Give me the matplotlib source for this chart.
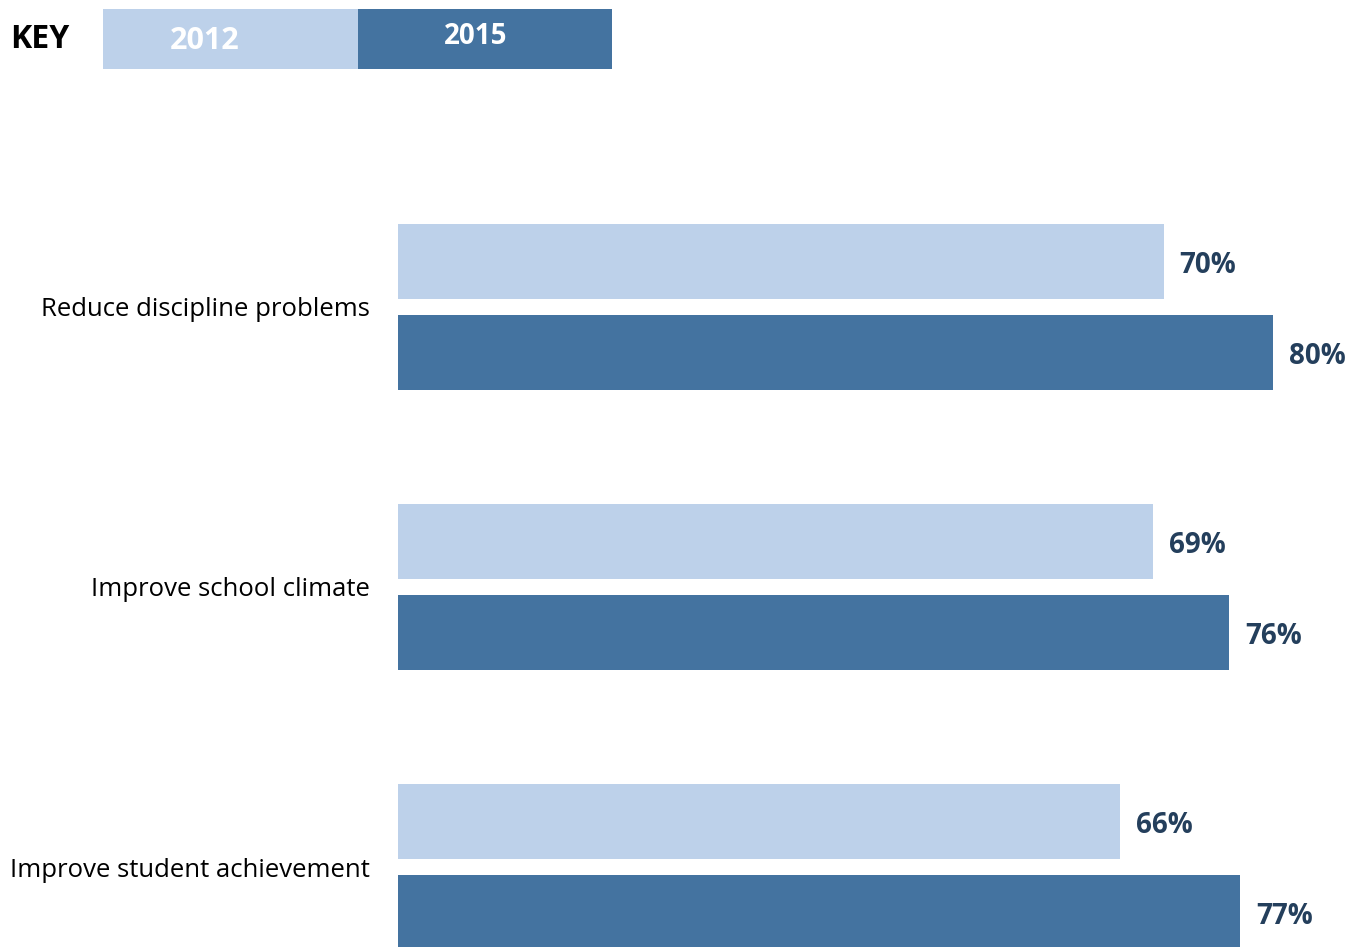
import matplotlib.pyplot as plt
from matplotlib.patches import Rectangle

plt.rcParams['font.family'] = ['Open Sans', 'DejaVu Sans']

categories = ["Reduce discipline problems", "Improve school climate", "Improve student achievement"]
years = ["2012", "2015"]
values_2012 = [70, 69, 66]
values_2015 = [80, 76, 77]

light = "#BDD1EA"
dark = "#4473A0"
label_color = "#243F5C"

W, H = 1354, 947
fig = plt.figure(figsize=(W / 100, H / 100), dpi=100)

# bars start at x=398px, 80% reaches 1273px
px_per_pct = (1273 - 398) / 80
ax = fig.add_axes([398 / W, 0, (W - 398) / W, 1])
ax.set_xlim(0, (W - 398) / px_per_pct)

# one category unit = 280px, first group centred at 307px from the top
unit = 280
ax.set_ylim((H - 307) / unit, -307 / unit)

bar_h = 75 / unit
offset = 45.5 / unit
ypos = list(range(len(categories)))

ax.barh([y - offset for y in ypos], values_2012, height=bar_h, color=light, label=years[0])
ax.barh([y + offset for y in ypos], values_2015, height=bar_h, color=dark, label=years[1])

nudge = 4 / unit
for y, v in zip(ypos, values_2012):
    ax.text(v + 16 / px_per_pct, y - offset + nudge, f"{v}%", va="center", ha="left",
            fontsize=20, fontweight="bold", color=label_color)
for y, v in zip(ypos, values_2015):
    ax.text(v + 16 / px_per_pct, y + offset + nudge, f"{v}%", va="center", ha="left",
            fontsize=20, fontweight="bold", color=label_color)

ax.set_yticks(ypos)
ax.set_yticklabels(categories, fontsize=18.5, color="black")
ax.tick_params(axis="y", length=0, pad=20)
ax.set_xticks([])
for s in ax.spines.values():
    s.set_visible(False)

# key at the top left
fig.text(10 / W, 1 - 39 / H, "KEY", fontsize=23, fontweight="bold", va="center", ha="left")
fig.add_artist(Rectangle((103 / W, 1 - 69 / H), 255 / W, 60 / H, transform=fig.transFigure,
                         facecolor=light, edgecolor="none"))
fig.add_artist(Rectangle((358 / W, 1 - 69 / H), 254 / W, 60 / H, transform=fig.transFigure,
                         facecolor=dark, edgecolor="none"))
fig.text(205 / W, 1 - 41 / H, years[0], fontsize=22, fontweight="bold", color="white",
         va="center", ha="center")
fig.text(476 / W, 1 - 37 / H, years[1], fontsize=20, fontweight="bold", color="white",
         va="center", ha="center")

fig.savefig("out.png", dpi=100)
